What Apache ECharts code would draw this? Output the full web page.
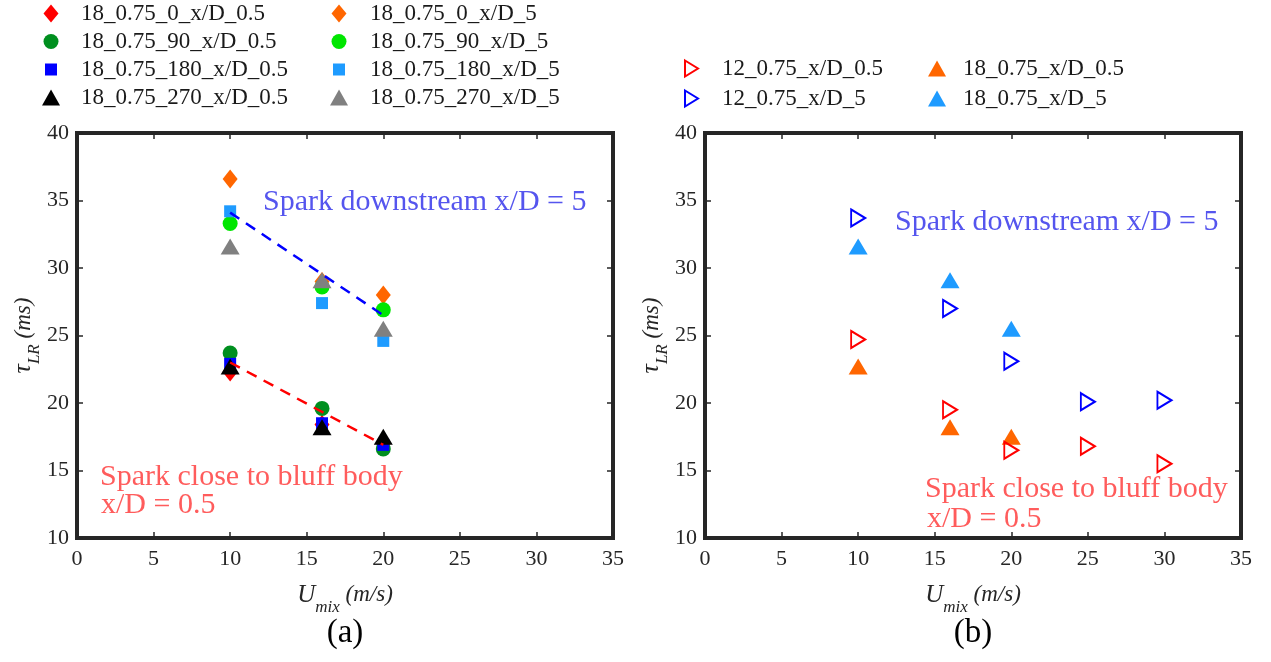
<!DOCTYPE html>
<html>
<head>
<meta charset="utf-8">
<title>tau_LR vs U_mix</title>
<script src="https://cdn.jsdelivr.net/npm/echarts@6/dist/echarts.min.js"></script>
<style>
html, body { margin: 0; padding: 0; background: #fff; }
#main { width: 1271px; height: 662px; }
</style>
</head>
<body>
<div id="main"></div>
<script>
// axis ticks
var xTicks = [0, 5, 10, 15, 20, 25, 30, 35];
var yTicks = [10, 15, 20, 25, 30, 35, 40];

// (a) swirl angle cases, U_mix (m/s) vs tau_LR (ms)
var umixA = [10, 16, 20];
var tau18_0_near = [22.3, 18.4, 17.0];
var tau18_90_near = [23.7, 19.6, 16.6];
var tau18_180_near = [22.9, 18.5, 16.9];
var tau18_270_near = [22.7, 18.2, 17.5];
var tau18_0_far = [36.6, 29.0, 28.0];
var tau18_90_far = [33.3, 28.6, 26.9];
var tau18_180_far = [34.2, 27.4, 24.6];
var tau18_270_far = [31.6, 29.1, 25.5];

// dashed trend lines in (a)
var fitX = [10, 20];
var fitFar = [34.1, 26.5];
var fitNear = [23.0, 16.9];

// (b) 12 vs 18 cases
var umix12 = [10, 16, 20, 25, 30];
var tau12_near = [24.7, 19.5, 16.5, 16.8, 15.5];
var tau12_far = [33.7, 27.0, 23.1, 20.1, 20.2];
var umix18 = [10, 16, 20];
var tau18_near = [22.7, 18.2, 17.5];
var tau18_far = [31.6, 29.1, 25.5];

var SERIF = '"Liberation Serif", "Times New Roman", serif';
var AXIS_COLOR = '#262626';

// marker shapes
var DIAMOND = 'path://M5,0L10,7L5,14L0,7Z';
var RTRI = 'path://M0,0L13,8L0,16Z';
// legend icons, drawn in an 18x18 box (the two moveTo points fix the box)
var BOX = 'M0,0M18,18';
var ICON = {
    diamond: 'path://' + BOX + 'M9,0L16.5,9L9,18L1.5,9Z',
    circle: 'path://' + BOX + 'M1.5,9A7.5,7.5,0,1,1,16.5,9A7.5,7.5,0,1,1,1.5,9Z',
    square: 'path://' + BOX + 'M3,3L15,3L15,15L3,15Z',
    triangle: 'path://' + BOX + 'M0,17L9,1L18,17Z',
    rtri: 'path://' + BOX + 'M3,1L16,9L3,17Z'
};

function pairs(xs, ys) {
    return xs.map(function (x, i) { return [x, ys[i]]; });
}

function buildXAxes(gridIndex) {
    var line = {show: true, onZero: false, lineStyle: {color: AXIS_COLOR, width: 4, cap: 'square'}};
    var tick = {show: true, inside: true, length: 6, lineStyle: {color: AXIS_COLOR, width: 1.5}};
    return [{
        type: 'value', gridIndex: gridIndex, position: 'bottom',
        min: xTicks[0], max: xTicks[xTicks.length - 1], interval: xTicks[1] - xTicks[0],
        axisLine: line, axisTick: tick, splitLine: {show: false},
        axisLabel: {margin: 10, fontFamily: SERIF, fontSize: 22, color: AXIS_COLOR},
        name: '{u|U}{s|mix}{m| (m/s)}',
        nameLocation: 'middle', nameGap: 38,
        nameTextStyle: {
            fontFamily: SERIF, fontStyle: 'italic', color: AXIS_COLOR,
            rich: {
                u: {fontFamily: SERIF, fontStyle: 'italic', fontSize: 25, lineHeight: 25, verticalAlign: 'middle', color: AXIS_COLOR},
                s: {fontFamily: SERIF, fontStyle: 'italic', fontSize: 17, lineHeight: 17, padding: [24, 0, 0, 0], verticalAlign: 'middle', color: AXIS_COLOR},
                m: {fontFamily: SERIF, fontStyle: 'italic', fontSize: 23, lineHeight: 25, verticalAlign: 'middle', color: AXIS_COLOR}
            }
        }
    }, {
        type: 'value', gridIndex: gridIndex, position: 'top',
        min: xTicks[0], max: xTicks[xTicks.length - 1], interval: xTicks[1] - xTicks[0],
        axisLine: line, axisTick: tick, axisLabel: {show: false}, splitLine: {show: false}
    }];
}

function buildYAxes(gridIndex) {
    var line = {show: true, onZero: false, lineStyle: {color: AXIS_COLOR, width: 4, cap: 'square'}};
    var tick = {show: true, inside: true, length: 6, lineStyle: {color: AXIS_COLOR, width: 1.5}};
    return [{
        type: 'value', gridIndex: gridIndex, position: 'left',
        min: yTicks[0], max: yTicks[yTicks.length - 1], interval: yTicks[1] - yTicks[0],
        axisLine: line, axisTick: tick, splitLine: {show: false},
        axisLabel: {margin: 8, fontFamily: SERIF, fontSize: 22, color: AXIS_COLOR},
        name: '{t|τ}{s|LR}{m| (ms)}',
        nameLocation: 'middle', nameRotate: 90, nameGap: 34,
        nameTextStyle: {
            fontFamily: SERIF, fontStyle: 'italic', color: AXIS_COLOR,
            rich: {
                t: {fontFamily: SERIF, fontStyle: 'italic', fontSize: 26, lineHeight: 26, verticalAlign: 'middle', color: AXIS_COLOR},
                s: {fontFamily: SERIF, fontStyle: 'italic', fontSize: 17, lineHeight: 17, padding: [22, 0, 0, 0], verticalAlign: 'middle', color: AXIS_COLOR},
                m: {fontFamily: SERIF, fontStyle: 'italic', fontSize: 23, lineHeight: 26, verticalAlign: 'middle', color: AXIS_COLOR}
            }
        }
    }, {
        type: 'value', gridIndex: gridIndex, position: 'right',
        min: yTicks[0], max: yTicks[yTicks.length - 1], interval: yTicks[1] - yTicks[0],
        axisLine: line, axisTick: tick, axisLabel: {show: false}, splitLine: {show: false}
    }];
}

function scatter(name, axis, xs, ys, symbol, size, color, open) {
    return {
        name: name, type: 'scatter',
        xAxisIndex: axis, yAxisIndex: axis,
        symbol: symbol, symbolSize: size,
        itemStyle: open
            ? {color: 'rgba(0,0,0,0)', borderColor: color, borderWidth: 2, opacity: 1}
            : {color: color, borderWidth: 0, opacity: 1},
        emphasis: {disabled: true},
        data: pairs(xs, ys)
    };
}

function fitLine(axis, ys, color) {
    return {
        type: 'line', xAxisIndex: axis, yAxisIndex: axis,
        symbol: 'none', silent: true, z: 3,
        lineStyle: {color: color, width: 2.5, type: [11, 8]},
        data: pairs(fitX, ys)
    };
}

function legendItem(name, icon, color, open) {
    return {
        name: name, icon: icon,
        itemStyle: open
            ? {color: 'rgba(0,0,0,0)', borderColor: color, borderWidth: 2}
            : {color: color, borderWidth: 0}
    };
}

function legendCol(left, top, width, gap, data) {
    return {
        orient: 'vertical', left: left, top: top, padding: 0,
        itemWidth: width, itemHeight: 18, itemGap: gap,
        selectedMode: false,
        textStyle: {fontFamily: SERIF, fontSize: 23, color: '#1a1a1a'},
        data: data
    };
}

function note(text, x, y, color) {
    return {
        type: 'text', x: x, y: y, silent: true,
        style: {text: text, fill: color, font: '30px ' + SERIF, verticalAlign: 'middle'}
    };
}

function initChart() {
    var chart = echarts.init(document.getElementById('main'));
    var xAxes = buildXAxes(0).concat(buildXAxes(1));
    var yAxes = buildYAxes(0).concat(buildYAxes(1));
    // axes 0/1 belong to grid 0, axes 2/3 to grid 1; series use 0 and 2
    var blueNote = '#5555ee';
    var redNote = '#ff5c5c';

    var option = {
        animation: false,
        backgroundColor: '#fff',
        title: [
            {text: '(a)', left: 345, top: 617, textAlign: 'center', padding: 0,
                textStyle: {fontFamily: SERIF, fontSize: 33, fontWeight: 'normal', color: '#000'}},
            {text: '(b)', left: 973, top: 617, textAlign: 'center', padding: 0,
                textStyle: {fontFamily: SERIF, fontSize: 33, fontWeight: 'normal', color: '#000'}}
        ],
        grid: [
            {left: 77, top: 133, width: 536, height: 405},
            {left: 705, top: 133, width: 536, height: 405}
        ],
        xAxis: xAxes,
        yAxis: yAxes,
        legend: [
            legendCol(42, 2, 50, 5, [
                legendItem('18_0.75_0_x/D_0.5', ICON.diamond, '#ff0000'),
                legendItem('18_0.75_90_x/D_0.5', ICON.circle, '#008f1f'),
                legendItem('18_0.75_180_x/D_0.5', ICON.square, '#0000ff'),
                legendItem('18_0.75_270_x/D_0.5', ICON.triangle, '#000000')
            ]),
            legendCol(330, 2, 52, 5, [
                legendItem('18_0.75_0_x/D_5', ICON.diamond, '#ff6600'),
                legendItem('18_0.75_90_x/D_5', ICON.circle, '#00e600'),
                legendItem('18_0.75_180_x/D_5', ICON.square, '#1e9bff'),
                legendItem('18_0.75_270_x/D_5', ICON.triangle, '#808080')
            ]),
            legendCol(681, 57, 52, 7, [
                legendItem('12_0.75_x/D_0.5', ICON.rtri, '#ff0000', true),
                legendItem('12_0.75_x/D_5', ICON.rtri, '#0000ff', true)
            ]),
            legendCol(928, 57, 42, 7, [
                legendItem('18_0.75_x/D_0.5', ICON.triangle, '#ff6600'),
                legendItem('18_0.75_x/D_5', ICON.triangle, '#1e9bff')
            ])
        ],
        graphic: [
            note('Spark downstream x/D = 5', 263, 202, blueNote),
            note('Spark close to bluff body', 100, 477, redNote),
            note('x/D = 0.5', 101, 505, redNote),
            note('Spark downstream x/D = 5', 895, 222, blueNote),
            note('Spark close to bluff body', 925, 489, redNote),
            note('x/D = 0.5', 927, 519, redNote)
        ],
        series: [
            scatter('18_0.75_0_x/D_0.5', 0, umixA, tau18_0_near, DIAMOND, [15, 19], '#ff0000'),
            scatter('18_0.75_0_x/D_5', 0, umixA, tau18_0_far, DIAMOND, [15, 19], '#ff6600'),
            scatter('18_0.75_90_x/D_0.5', 0, umixA, tau18_90_near, 'circle', 15, '#008f1f'),
            scatter('18_0.75_90_x/D_5', 0, umixA, tau18_90_far, 'circle', 15, '#00e600'),
            scatter('18_0.75_180_x/D_0.5', 0, umixA, tau18_180_near, 'rect', 12, '#0000ff'),
            scatter('18_0.75_180_x/D_5', 0, umixA, tau18_180_far, 'rect', 12, '#1e9bff'),
            scatter('18_0.75_270_x/D_0.5', 0, umixA, tau18_270_near, 'triangle', [19, 16], '#000000'),
            scatter('18_0.75_270_x/D_5', 0, umixA, tau18_270_far, 'triangle', [19, 16], '#808080'),
            fitLine(0, fitFar, '#0000ff'),
            fitLine(0, fitNear, '#ff0000'),

            scatter('18_0.75_x/D_0.5', 2, umix18, tau18_near, 'triangle', [19, 16], '#ff6600'),
            scatter('18_0.75_x/D_5', 2, umix18, tau18_far, 'triangle', [19, 16], '#1e9bff'),
            scatter('12_0.75_x/D_0.5', 2, umix12, tau12_near, RTRI, [14, 17], '#ff0000', true),
            scatter('12_0.75_x/D_5', 2, umix12, tau12_far, RTRI, [14, 17], '#0000ff', true)
        ]
    };
    chart.setOption(option);
}

initChart();
</script>
</body>
</html>
